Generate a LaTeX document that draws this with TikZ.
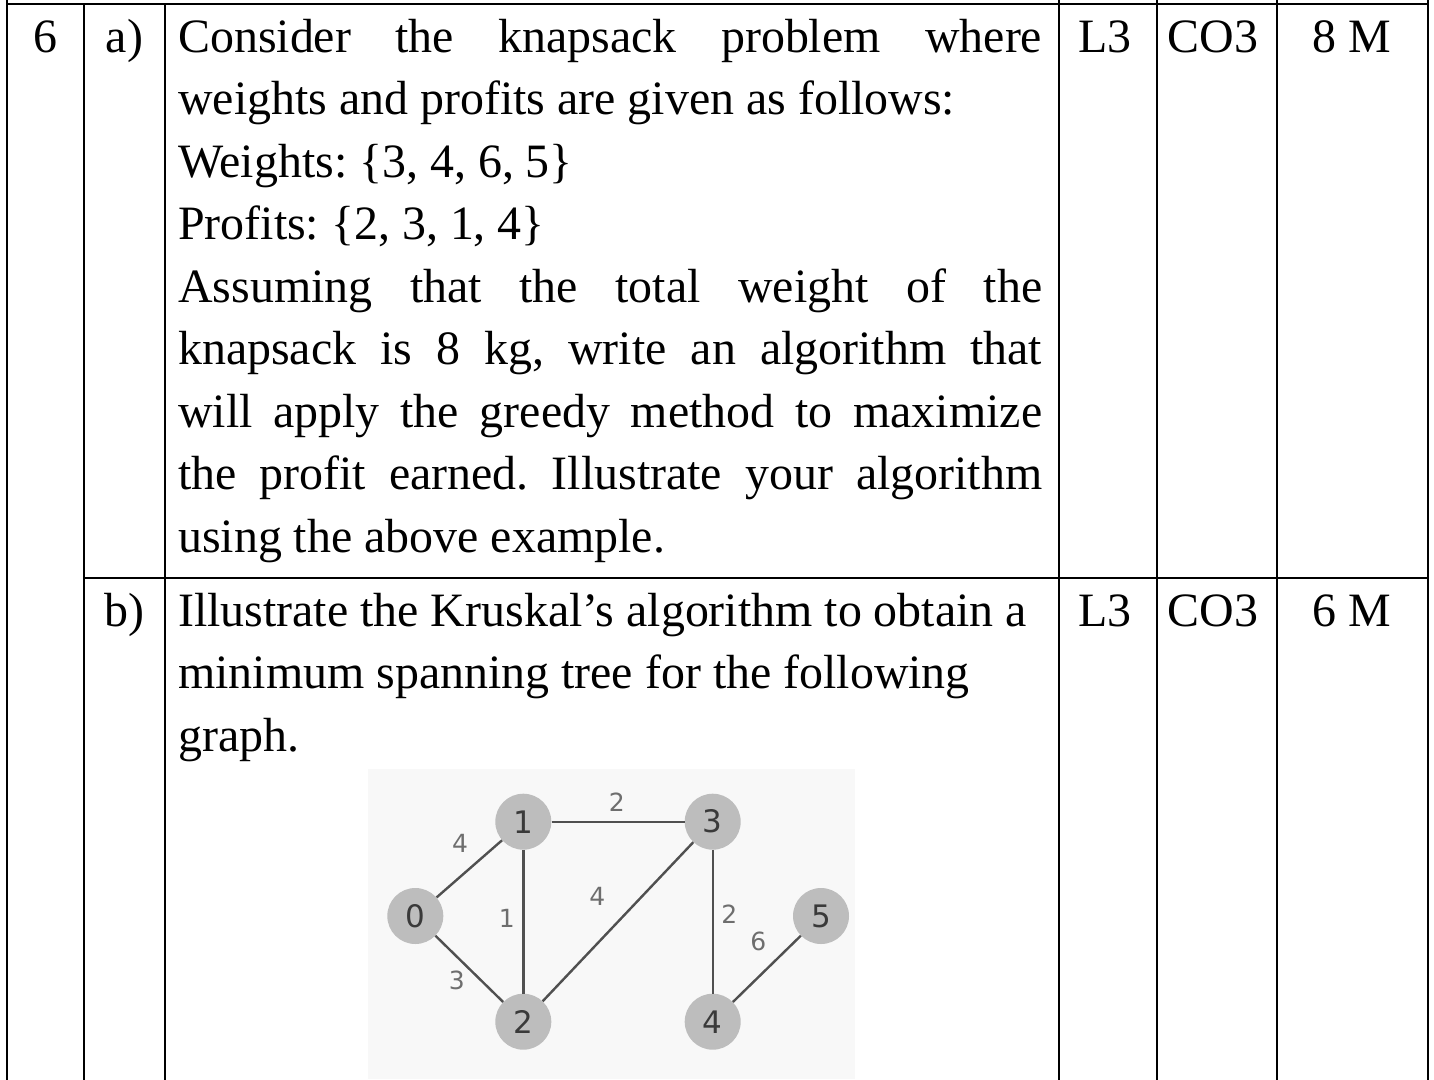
\documentclass[tikz,border=0pt]{standalone}
\usepackage{fontspec}
\setmainfont{Liberation Serif}
\newfontfamily\graphfont{DejaVu Sans}
\definecolor{imgbg}{RGB}{248,248,248}
\definecolor{nodefill}{RGB}{189,189,189}
\definecolor{nodetext}{RGB}{58,58,58}
\definecolor{edgecol}{RGB}{80,80,80}
\definecolor{labcol}{RGB}{110,110,110}
\begin{document}
\frenchspacing
\begin{tikzpicture}[x=1pt,y=-1pt,
  rule/.style={line width=2.2pt, draw=black, line cap=rect},
  celltext/.style={inner sep=0pt, anchor=base, font=\fontsize{47.9}{62.5}\selectfont},
  bodyline/.style={inner sep=0pt, anchor=base west, font=\fontsize{47.9}{62.5}\selectfont},
  gnode/.style={circle, fill=nodefill, minimum size=56pt, inner sep=0pt, text=nodetext, font=\graphfont\fontsize{31}{31}\selectfont},
  gedge/.style={draw=edgecol, line width=2.4pt},
  glabel/.style={inner sep=0pt, text=labcol, font=\graphfont\fontsize{25}{25}\selectfont}
]
\useasboundingbox[fill=white] (0,0) rectangle (1434,1079);

% picture background of the graph
\fill[imgbg] (368,769) rectangle (855,1079);

% table rules
\draw[rule] (7,0) -- (7,1079);
\draw[rule] (84,4) -- (84,1079);
\draw[rule] (165,4) -- (165,1079);
\draw[rule] (1059,0) -- (1059,1079);
\draw[rule] (1157,0) -- (1157,1079);
\draw[rule] (1277,0) -- (1277,1079);
\draw[rule] (1428,0) -- (1428,1079);
\draw[rule] (7,4) -- (1428,4);
\draw[rule] (84,578) -- (1428,578);

% row a
\node[celltext] (qno) at (45.5,52) {6};
\node[celltext] (pa) at (124.5,52) {a)};
\node[celltext] (la) at (1105,52) {L3};
\node[celltext] (ca) at (1213,52) {CO3};
\node[celltext] (ma) at (1352,52) {8 M};
\node[bodyline] (a1) at (178,52) {\makebox[864pt][s]{Consider the knapsack problem where}};
\node[bodyline] (a2) at (178,114.5) {weights and profits are given as follows:};
\node[bodyline] (a3) at (178,177) {Weights: \{3, 4, 6, 5\}};
\node[bodyline] (a4) at (178,239.5) {Profits: \{2, 3, 1, 4\}};
\node[bodyline] (a5) at (178,302) {\makebox[864pt][s]{Assuming that the total weight of the}};
\node[bodyline] (a6) at (178,364.5) {\makebox[864pt][s]{knapsack is 8 kg, write an algorithm that}};
\node[bodyline] (a7) at (178,427) {\makebox[864pt][s]{will apply the greedy method to maximize}};
\node[bodyline] (a8) at (178,489.5) {\makebox[864pt][s]{the profit earned. Illustrate your algorithm}};
\node[bodyline] (a9) at (178,552) {using the above example.};

% row b
\node[celltext] (pb) at (124.5,626) {b)};
\node[celltext] (lb) at (1105,626) {L3};
\node[celltext] (cb) at (1213,626) {CO3};
\node[celltext] (mb) at (1352,626) {6 M};
\node[bodyline] (b1) at (178,626) {Illustrate the Kruskal’s algorithm to obtain a};
\node[bodyline] (b2) at (178,688.5) {minimum spanning tree for the following};
\node[bodyline] (b3) at (178,751) {graph.};

% graph
\node[gnode] (n0) at (415.3,916) {0};
\node[gnode] (n1) at (523.3,821.7) {1};
\node[gnode] (n2) at (523.3,1021.7) {2};
\node[gnode] (n3) at (712.7,821.7) {3};
\node[gnode] (n4) at (712.7,1021.7) {4};
\node[gnode] (n5) at (821,916) {5};
\draw[gedge] (n0) -- (n1);
\draw[gedge] (n0) -- (n2);
\draw[gedge] (n1) -- (n2);
\draw[gedge] (n1) -- (n3);
\draw[gedge] (n2) -- (n3);
\draw[gedge] (n3) -- (n4);
\draw[gedge] (n4) -- (n5);
\node[glabel] (w13) at (616.7,802) {2};
\node[glabel] (w01) at (460,843.3) {4};
\node[glabel] (w12) at (506.7,918.3) {1};
\node[glabel] (w23) at (597.3,896.7) {4};
\node[glabel] (w34) at (729.3,914) {2};
\node[glabel] (w45) at (758.3,941.7) {6};
\node[glabel] (w02) at (456.7,980) {3};
\end{tikzpicture}
\end{document}
